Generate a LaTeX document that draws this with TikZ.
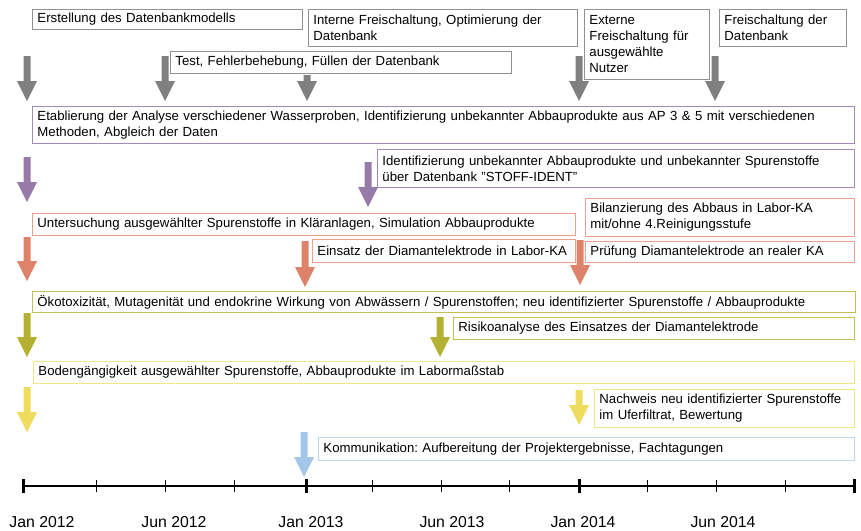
\documentclass[tikz,border=0pt]{standalone}
\usepackage{fontspec}
\setmainfont{Liberation Sans}
\usepackage{xcolor}
\usepackage{tikz}
\frenchspacing

\definecolor{grayA}{RGB}{128,128,128}
\definecolor{grayB}{RGB}{145,145,145}
\definecolor{lilaA}{RGB}{150,122,168}
\definecolor{lilaB}{RGB}{165,138,185}
\definecolor{lachsA}{RGB}{222,131,106}
\definecolor{lachsB}{RGB}{234,160,140}
\definecolor{olivA}{RGB}{180,176,52}
\definecolor{olivB}{RGB}{198,192,84}
\definecolor{gelbA}{RGB}{238,220,94}
\definecolor{gelbB}{RGB}{242,230,135}
\definecolor{blauA}{RGB}{163,198,234}
\definecolor{blauB}{RGB}{188,214,240}

% block arrow: colour, x, top, tip
\newcommand{\tlarrow}[4]{%
  \fill[#1] ({#2-3.5},#3) -- ({#2+3.5},#3) -- ({#2+3.5},{#4-20}) -- ({#2+10},{#4-20})
    -- (#2,#4) -- ({#2-10},{#4-20}) -- ({#2-3.5},{#4-20}) -- cycle;}

\begin{document}
\begin{tikzpicture}[x=1pt, y=-1pt,
        box/.style={rectangle, draw, line width=0.9pt, anchor=north west, inner xsep=5pt, inner ysep=2pt,
            align=left, font=\fontsize{13.2}{16}\selectfont},
        date/.style={inner sep=0pt, font=\fontsize{15.8}{18}\selectfont}
    ]
        \useasboundingbox (0,0) rectangle (861,530);

        % Datenbank
        \node[box, draw=grayB, text width=260pt, minimum height=20pt] (erstellung) at (32,9) {Erstellung des Datenbankmodells};
        \node[box, draw=grayB, text width=259pt, minimum height=37pt] (intern) at (308,9) {Interne Freischaltung, Optimierung der\\Datenbank};
        \node[box, draw=grayB, text width=115pt, minimum height=70pt] (extern) at (584,9) {Externe\\Freischaltung f\"ur\\ausgew\"ahlte\\Nutzer};
        \node[box, draw=grayB, text width=117pt, minimum height=37pt] (freischalt) at (719,9) {Freischaltung der\\Datenbank};
        \node[box, draw=grayB, text width=331pt, minimum height=22pt] (test) at (170,51) {Test, Fehlerbehebung, F\"ullen der Datenbank};
        \tlarrow{grayA}{27}{56}{101}
        \tlarrow{grayA}{165}{56}{101}
        \tlarrow{grayA}{307}{75}{101}
        \tlarrow{grayA}{579}{56}{101}
        \tlarrow{grayA}{715}{56}{101}

        % Analyse
        \node[box, draw=lilaB, text width=812pt, minimum height=37pt] (etabl) at (32,106) {Etablierung der Analyse verschiedener Wasserproben, Identifizierung unbekannter Abbauprodukte aus AP 3 \& 5 mit verschiedenen\\Methoden, Abgleich der Daten};
        \node[box, draw=lilaB, text width=467pt, minimum height=38pt] (ident) at (377,149) {Identifizierung unbekannter Abbauprodukte und unbekannter Spurenstoffe\\\"uber Datenbank "STOFF-IDENT"};
        \tlarrow{lilaA}{27}{157}{202}
        \tlarrow{lilaA}{368}{162}{207}

        % Klaeranlagen
        \node[box, draw=lachsB, text width=533pt, minimum height=22pt] (untersuch) at (32,213) {Untersuchung ausgew\"ahlter Spurenstoffe in Kl\"aranlagen, Simulation Abbauprodukte};
        \node[box, draw=lachsB, text width=259pt, minimum height=38pt] (bilanz) at (585,198) {Bilanzierung des Abbaus in Labor-KA\\mit/ohne 4.Reinigungsstufe};
        \node[box, draw=lachsB, text width=253pt, minimum height=23pt] (einsatz) at (312,239) {Einsatz der Diamantelektrode in Labor-KA};
        \node[box, draw=lachsB, text width=259pt, minimum height=21pt] (pruef) at (585,241) {Pr\"ufung Diamantelektrode an realer KA};
        \tlarrow{lachsA}{27}{237}{281}
        \tlarrow{lachsA}{305}{241}{287}
        \tlarrow{lachsA}{580}{240}{285}

        % Wirkung
        \node[box, draw=olivB, text width=813pt, minimum height=21pt] (oekotox) at (32,291) {\"Okotoxizit\"at, Mutagenit\"at und endokrine Wirkung von Abw\"assern / Spurenstoffen; neu identifizierter Spurenstoffe / Abbauprodukte};
        \node[box, draw=olivB, text width=391pt, minimum height=22pt] (risiko) at (453,317) {Risikoanalyse des Einsatzes der Diamantelektrode};
        \tlarrow{olivA}{27}{313}{357}
        \tlarrow{olivA}{440}{317}{357}

        % Boden
        \node[box, draw=gelbB, text width=811pt, minimum height=22pt] (boden) at (33,361) {Bodeng\"angigkeit ausgew\"ahlter Spurenstoffe, Abbauprodukte im Labormaßstab};
        \node[box, draw=gelbB, text width=250pt, minimum height=38pt] (nachweis) at (594,389) {Nachweis neu identifizierter Spurenstoffe\\im Uferfiltrat, Bewertung};
        \tlarrow{gelbA}{27}{387}{432}
        \tlarrow{gelbA}{579}{390}{425}

        % Kommunikation
        \node[box, draw=blauB, text width=526pt, minimum height=23pt] (komm) at (318,437) {Kommunikation: Aufbereitung der Projektergebnisse, Fachtagungen};
        \tlarrow{blauA}{304}{432}{477}

        % Zeitachse
        \draw[line width=1.4pt] (23,486) -- (854,486);
        \foreach \x in {96,165,234,372,441,509,647,716,785}
            \draw[line width=1pt] (\x,480) -- (\x,492);
        \foreach \x in {23,306,579,854}
            \draw[line width=3pt] (\x,479) -- (\x,493);
        \node[date] (jan12) at (42,522) {Jan 2012};
        \node[date] (jun12) at (174,522) {Jun 2012};
        \node[date] (jan13) at (311,522) {Jan 2013};
        \node[date] (jun13) at (452,522) {Jun 2013};
        \node[date] (jan14) at (583,522) {Jan 2014};
        \node[date] (jun14) at (723,522) {Jun 2014};
    \end{tikzpicture}
\end{document}
